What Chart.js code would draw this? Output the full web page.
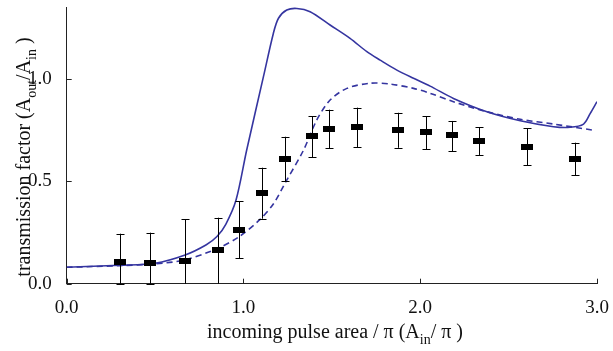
<!DOCTYPE html>
<html>
<head>
<meta charset="utf-8">
<script src="https://cdn.jsdelivr.net/npm/chart.js@4/dist/chart.umd.min.js"></script>
<style>
  html, body { margin: 0; padding: 0; background: #fff; }
  #wrap { width: 613px; height: 351px; }
</style>
</head>
<body>
<div id="wrap"><canvas id="chart" width="613" height="351"></canvas></div>
<script>
// measured points with error bars
const pointX = [0.302, 0.471, 0.671, 0.856, 0.975, 1.105, 1.237, 1.386, 1.486, 1.645, 1.877, 2.033, 2.182, 2.335, 2.603, 2.873];
const pointY = [0.107, 0.099, 0.112, 0.164, 0.262, 0.442, 0.608, 0.720, 0.755, 0.763, 0.751, 0.738, 0.724, 0.696, 0.668, 0.608];
const errHigh = [0.244, 0.249, 0.314, 0.322, 0.402, 0.566, 0.717, 0.818, 0.849, 0.859, 0.834, 0.818, 0.794, 0.764, 0.758, 0.688];
const errLow = [0.0, 0.0, -0.05, -0.05, 0.125, 0.317, 0.500, 0.617, 0.660, 0.667, 0.663, 0.657, 0.647, 0.628, 0.579, 0.529];

// solid theory curve
const solidX = [0, 0.3, 0.5, 0.67, 0.79, 0.85, 0.9, 0.958, 1.018, 1.113, 1.169, 1.198, 1.245, 1.302, 1.377, 1.49, 1.603, 1.698, 1.773, 1.868, 1.962, 2.056, 2.188, 2.377, 2.566, 2.754, 2.848, 2.924, 2.962, 3.0];
const solidY = [0.080, 0.090, 0.100, 0.140, 0.190, 0.230, 0.290, 0.408, 0.651, 1.010, 1.221, 1.295, 1.335, 1.343, 1.327, 1.262, 1.197, 1.132, 1.091, 1.042, 1.002, 0.964, 0.904, 0.839, 0.795, 0.766, 0.763, 0.779, 0.831, 0.888];

// dashed theory curve
const dashX = [0, 0.3, 0.5, 0.67, 0.856, 0.975, 1.094, 1.17, 1.24, 1.34, 1.415, 1.49, 1.585, 1.716, 1.83, 1.962, 2.056, 2.188, 2.377, 2.566, 2.754, 2.971];
const dashY = [0.080, 0.088, 0.097, 0.116, 0.173, 0.229, 0.314, 0.390, 0.498, 0.652, 0.799, 0.896, 0.953, 0.978, 0.974, 0.953, 0.929, 0.888, 0.839, 0.802, 0.779, 0.750];

const xTicks = [0, 1, 2, 3];
const yTicks = [0, 0.5, 1.0];

const lineColor = "#3535a0";
const fontFamily = "'Liberation Serif', 'DejaVu Serif', serif";

function toXY(xs, ys) {
  return xs.map((x, i) => ({ x: x, y: ys[i] }));
}

// black bar used as point marker
const marker = document.createElement("canvas");
marker.width = 12;
marker.height = 6;
const mctx = marker.getContext("2d");
mctx.fillStyle = "#000";
mctx.fillRect(0, 0, 12, 6);

// draws text runs, some of them as subscripts
function drawRuns(ctx, runs, size) {
  let total = 0;
  runs.forEach((r) => {
    ctx.font = (r.sub ? size * 0.7 : size) + "px " + fontFamily;
    r.w = ctx.measureText(r.t).width;
    total += r.w;
  });
  let x = -total / 2;
  runs.forEach((r) => {
    ctx.font = (r.sub ? size * 0.7 : size) + "px " + fontFamily;
    ctx.fillText(r.t, x, r.sub ? size * 0.3 : 0);
    x += r.w;
  });
}

const extras = {
  id: "extras",
  afterDatasetsDraw(chart) {
    const ctx = chart.ctx;
    const xs = chart.scales.x;
    const ys = chart.scales.y;
    const area = chart.chartArea;

    // error bars
    ctx.save();
    ctx.strokeStyle = "#000";
    ctx.lineWidth = 1;
    pointX.forEach((x, i) => {
      const px = Math.round(xs.getPixelForValue(x)) + 0.5;
      const top = ys.getPixelForValue(errHigh[i]);
      const bot = Math.min(ys.getPixelForValue(errLow[i]), area.bottom);
      ctx.beginPath();
      ctx.moveTo(px, top);
      ctx.lineTo(px, bot);
      ctx.moveTo(px - 4, Math.round(top) + 0.5);
      ctx.lineTo(px + 4, Math.round(top) + 0.5);
      if (errLow[i] >= 0) {
        ctx.moveTo(px - 4, Math.round(bot) + 0.5);
        ctx.lineTo(px + 4, Math.round(bot) + 0.5);
      }
      ctx.stroke();
    });

    // inward tick marks
    ctx.strokeStyle = "#222";
    ctx.beginPath();
    xTicks.forEach((v) => {
      const px = Math.round(xs.getPixelForValue(v)) + 0.5;
      ctx.moveTo(px, area.bottom);
      ctx.lineTo(px, area.bottom - 5);
    });
    yTicks.forEach((v) => {
      const py = Math.round(ys.getPixelForValue(v)) + 0.5;
      ctx.moveTo(area.left, py);
      ctx.lineTo(area.left + 5, py);
    });
    ctx.stroke();

    // axis titles
    ctx.fillStyle = "#111";
    ctx.textBaseline = "alphabetic";
    ctx.textAlign = "left";
    ctx.save();
    ctx.translate(335, 338);
    drawRuns(ctx, [
      { t: "incoming pulse area / \u03c0 (A" },
      { t: "in", sub: true },
      { t: "/ \u03c0 )" },
    ], 20);
    ctx.restore();

    ctx.save();
    ctx.translate(30, 157);
    ctx.rotate(-Math.PI / 2);
    drawRuns(ctx, [
      { t: "transmission factor (A" },
      { t: "out", sub: true },
      { t: "/A" },
      { t: "in", sub: true },
      { t: " )" },
    ], 20);
    ctx.restore();
    ctx.restore();
  },
};

new Chart(document.getElementById("chart"), {
  type: "line",
  data: {
    datasets: [
      {
        label: "data",
        data: toXY(pointX, pointY),
        showLine: false,
        pointStyle: marker,
        pointRadius: 6,
        order: 0,
      },
      {
        label: "solid",
        data: toXY(solidX, solidY),
        borderColor: lineColor,
        borderWidth: 1.6,
        pointRadius: 0,
        tension: 0.3,
        order: 1,
      },
      {
        label: "dashed",
        data: toXY(dashX, dashY),
        borderColor: lineColor,
        borderWidth: 1.6,
        borderDash: [6, 4],
        pointRadius: 0,
        tension: 0.3,
        order: 2,
      },
    ],
  },
  options: {
    responsive: false,
    animation: false,
    layout: { padding: { top: 7, right: 16, left: 0, bottom: 0 } },
    plugins: {
      legend: { display: false },
      tooltip: { enabled: false },
    },
    scales: {
      x: {
        type: "linear",
        min: 0,
        max: 3,
        afterFit: (s) => {
          s.height = 67.3;
          s.paddingLeft = 0;
          s.paddingRight = 0;
        },
        afterBuildTicks: (s) => { s.ticks = xTicks.map((v) => ({ value: v })); },
        grid: { display: false },
        border: { color: "#222", width: 1 },
        ticks: {
          padding: 5,
          color: "#111",
          font: { family: fontFamily, size: 19 },
          callback: (v) => v.toFixed(1),
        },
      },
      y: {
        type: "linear",
        min: 0,
        max: 1.35,
        afterFit: (s) => {
          s.width = 66.7;
          s.paddingTop = 0;
          s.paddingBottom = 0;
        },
        afterBuildTicks: (s) => { s.ticks = yTicks.map((v) => ({ value: v })); },
        grid: { display: false },
        border: { color: "#222", width: 1 },
        ticks: {
          padding: 7,
          color: "#111",
          font: { family: fontFamily, size: 19 },
          callback: (v) => v.toFixed(1),
        },
      },
    },
  },
  plugins: [extras],
});
</script>
</body>
</html>
